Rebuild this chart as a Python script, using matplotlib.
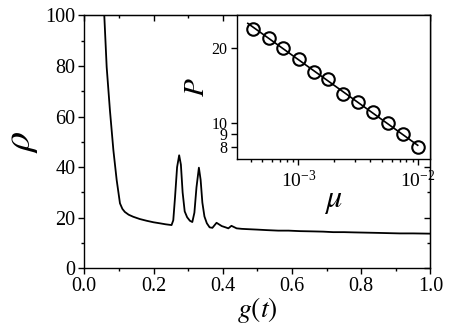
import matplotlib
matplotlib.use("Agg")
import matplotlib.pyplot as plt
import numpy as np
from matplotlib.ticker import MultipleLocator, FixedLocator, NullLocator, LogLocator, NullFormatter

plt.rcParams["font.family"] = "Liberation Serif"
plt.rcParams["mathtext.fontset"] = "stix"

# main curve: rho vs g(t)
g_t = [0.0577, 0.0646, 0.074, 0.084, 0.0935, 0.103, 0.110, 0.117, 0.128, 0.141,
       0.160, 0.180, 0.200, 0.218, 0.235, 0.252, 0.257, 0.262, 0.268, 0.274,
       0.279, 0.284, 0.290, 0.297, 0.305, 0.312, 0.318, 0.324, 0.331, 0.336,
       0.341, 0.347, 0.354, 0.362, 0.370, 0.382, 0.397, 0.408, 0.416, 0.425,
       0.440, 0.455, 0.469, 0.50, 0.527, 0.56, 0.59, 0.623, 0.66, 0.69,
       0.719, 0.75, 0.78, 0.815, 0.85, 0.88, 0.911, 0.95, 1.0]
rho = [100, 79.6, 62.5, 46.7, 34.9, 25.7, 23.5, 22.3, 21.2, 20.4,
       19.5, 18.8, 18.2, 17.8, 17.4, 17.1, 19.0, 28, 40, 44.7,
       41, 30, 22.5, 20.2, 18.8, 18.3, 22, 32, 39.8, 35,
       26, 20.5, 17.8, 16.2, 16.0, 18.0, 16.7, 16.2, 15.8, 16.8,
       15.8, 15.6, 15.5, 15.3, 15.1, 14.9, 14.9, 14.7, 14.6, 14.5,
       14.3, 14.3, 14.2, 14.1, 14.0, 13.9, 13.8, 13.8, 13.7]

# inset: P vs mu
mu = [4.20e-4, 5.69e-4, 7.48e-4, 1.01e-3, 1.35e-3, 1.78e-3,
      2.38e-3, 3.14e-3, 4.20e-3, 5.56e-3, 7.43e-3, 9.93e-3]
P = [23.8, 21.9, 20.0, 18.0, 16.0, 15.0, 13.0, 12.1, 11.0, 10.0, 9.0, 8.0]

fig = plt.figure(figsize=(4.71, 3.29), dpi=100)
ax = fig.add_axes([0.179, 0.1845, 0.735, 0.7685])

ax.plot(g_t, rho, color="black", lw=1.3)
ax.set_xlim(0, 1)
ax.set_ylim(0, 100)
ax.xaxis.set_major_locator(MultipleLocator(0.2))
ax.xaxis.set_minor_locator(MultipleLocator(0.1))
ax.yaxis.set_major_locator(MultipleLocator(20))
ax.yaxis.set_minor_locator(MultipleLocator(10))
ax.xaxis.set_major_formatter(matplotlib.ticker.FormatStrFormatter("%.1f"))
ax.tick_params(which="both", direction="out", labelsize=14.5, width=1, pad=2)
ax.tick_params(which="major", length=4.5)
ax.tick_params(which="minor", length=2.5)
ax.set_xlabel("$g(t)$", fontsize=20, labelpad=-1)
ax.set_ylabel(r"$\rho$", fontsize=29, labelpad=4)
for s in ax.spines.values():
    s.set_linewidth(1)

# mirrored ticks pointing inward on top and right
top = ax.secondary_xaxis("top")
top.xaxis.set_major_locator(MultipleLocator(0.2))
top.xaxis.set_minor_locator(MultipleLocator(0.1))
top.tick_params(which="both", direction="in", labeltop=False, width=1)
top.tick_params(which="major", length=4.5)
top.tick_params(which="minor", length=2.5)
right = ax.secondary_yaxis("right")
right.yaxis.set_major_locator(MultipleLocator(20))
right.yaxis.set_minor_locator(MultipleLocator(10))
right.tick_params(which="both", direction="in", labelright=False, width=1)
right.tick_params(which="major", length=4.5)
right.tick_params(which="minor", length=2.5)

# inset
ins = fig.add_axes([0.5025, 0.516, 0.4115, 0.437])
ins.set_xscale("log")
ins.set_yscale("log")
logm, logp = np.log10(mu), np.log10(P)
k, b = np.polyfit(logm, logp, 1)
xfit = np.array([mu[0] * 0.9, mu[-1]])
ins.plot(xfit, 10 ** (k * np.log10(xfit) + b), color="black", lw=1.2)
ins.plot(mu, P, "o", mfc="none", mec="black", ms=9, mew=1.5)
ins.set_xlim(3.05e-4, 1.27e-2)
ins.set_ylim(7.13, 27)
ins.yaxis.set_major_locator(FixedLocator([8, 9, 10, 20]))
ins.yaxis.set_major_formatter(matplotlib.ticker.FixedFormatter(["8", "9", "10", "20"]))
ins.yaxis.set_minor_locator(NullLocator())
ins.yaxis.set_minor_formatter(NullFormatter())
ins.xaxis.set_major_locator(LogLocator(base=10, numticks=5))
ins.xaxis.set_minor_locator(LogLocator(base=10, subs=np.arange(2, 10), numticks=10))
ins.xaxis.set_minor_formatter(NullFormatter())
ins.tick_params(which="both", direction="out", width=1, top=False, right=False)
ins.tick_params(axis="x", labelsize=14, pad=3)
ins.tick_params(axis="y", labelsize=11.5, pad=2)
ins.tick_params(which="major", length=4.5)
ins.tick_params(which="minor", length=2.5)
ins.set_xlabel(r"$\mu$", fontsize=23, labelpad=-3)
ins.set_ylabel("$P$", fontsize=21, labelpad=1)
for s in ins.spines.values():
    s.set_linewidth(1)

fig.savefig("out.png", dpi=100)
